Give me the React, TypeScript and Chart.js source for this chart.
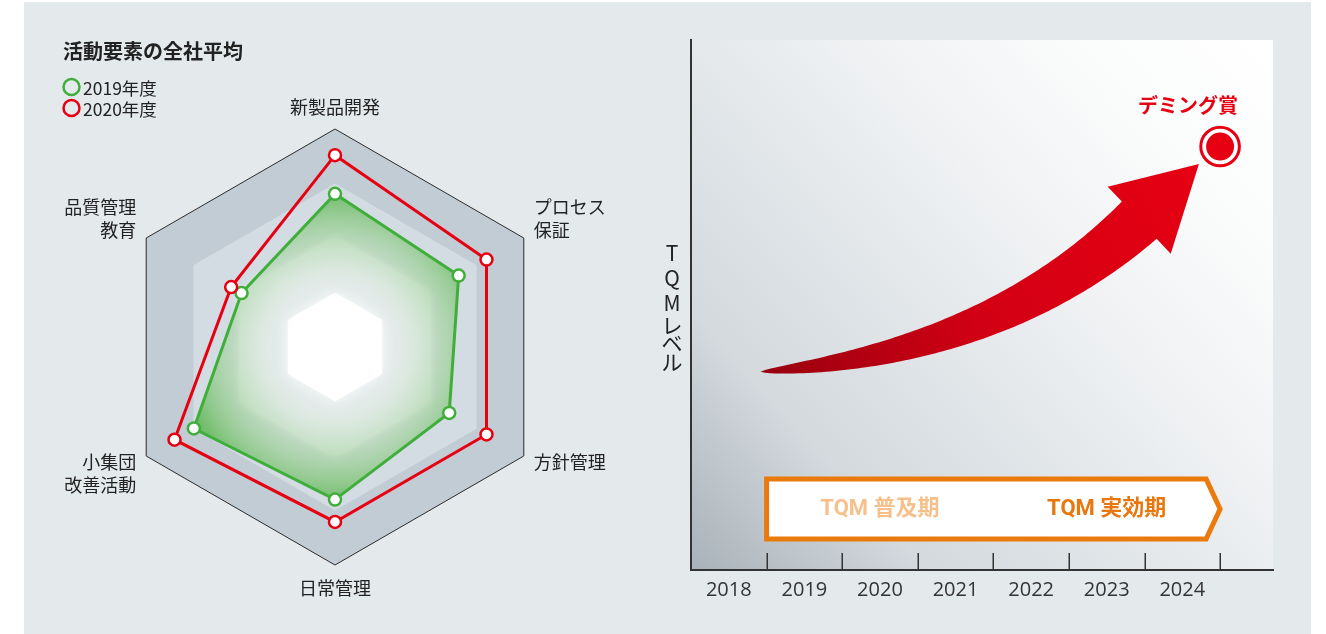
import React, { useEffect, useRef } from 'react';
import { Chart, registerables } from 'chart.js';

Chart.register(...registerables);

// ---------- Radar data ----------
const chartTitle = '活動要素の全社平均';
const radarLabels: (string | string[])[] = [
  '新製品開発',
  ['プロセス', '保証'],
  '方針管理',
  '日常管理',
  ['小集団', '改善活動'],
  ['品質管理', '教育'],
];
const seriesNames = ['2019年度', '2020年度'];
const series2019 = [2.81, 2.62, 2.42, 2.8, 2.99, 1.98];
const series2020 = [3.52, 3.21, 3.21, 3.21, 3.4, 2.2];
const radarTicks = [1, 2, 3, 4];

// ---------- TQM level data ----------
const yearLabels = [2018, 2019, 2020, 2021, 2022, 2023, 2024];
const yTitleChars = ['T', 'Q', 'M', 'レ', 'ベ', 'ル'];
// arrow spine: tail, bend, head base (year, level)
const arrowYears = [2018.42, 2021.54, 2023.43];
const arrowLevels = [37.4, 40.9, 66.0];
const arrowTipYear = [2024.22];
const arrowTipLevel = [76.6];
const awardYears = [2024.5];
const awardLevels = [79.9];
const awardLabel = 'デミング賞';
const phaseLabels = ['TQM 普及期', 'TQM 実効期'];
const phaseCenters = [2020, 2023];
const phaseSpan = [2018.5, 2024.5];
const phaseBand = [5.85, 17.17];

const FONT_JP = '"Noto Sans CJK JP", "Noto Sans", sans-serif';
const FONT_NUM = '"Open Sans", "Noto Sans CJK JP", sans-serif';
const RED = '#e60012';
const GREEN = '#3fae3a';

Chart.defaults.font.family = FONT_JP;

function RadarChart() {
  const ref = useRef<HTMLCanvasElement>(null);
  useEffect(() => {
    const canvas = ref.current!;
    const bandPlugin = {
      id: 'bands',
      beforeDraw(chart: any) {
        const s = chart.scales.r;
        const ctx = chart.ctx;
        const n = chart.data.labels.length;
        const fills = ['#c1ccd4', '#d3dce2', '#e4eaed', '#ffffff'];
        const vals = [...radarTicks].reverse();
        vals.forEach((v, k) => {
          ctx.save();
          ctx.beginPath();
          for (let i = 0; i < n; i++) {
            const p = s.getPointPositionForValue(i, v);
            if (i) ctx.lineTo(p.x, p.y);
            else ctx.moveTo(p.x, p.y);
          }
          ctx.closePath();
          if (k >= 2) {
            ctx.shadowColor = 'rgba(255,255,255,0.9)';
            ctx.shadowBlur = k === 3 ? 14 : 8;
          }
          ctx.fillStyle = fills[k];
          ctx.fill();
          ctx.restore();
        });
      },
    };
    const textPlugin = {
      id: 'texts',
      afterDraw(chart: any) {
        const ctx = chart.ctx;
        const s = chart.scales.r;
        ctx.save();
        // title
        ctx.fillStyle = '#222';
        ctx.textBaseline = 'middle';
        ctx.textAlign = 'left';
        ctx.font = `bold 20px ${FONT_JP}`;
        ctx.fillText(chartTitle, 63, 51);
        // legend
        const legendColors = [GREEN, RED];
        seriesNames.forEach((name, i) => {
          const cy = 87 + i * 21;
          ctx.beginPath();
          ctx.arc(71.5, cy, 8, 0, Math.PI * 2);
          ctx.lineWidth = 2.5;
          ctx.strokeStyle = legendColors[i];
          ctx.stroke();
          ctx.fillStyle = '#222';
          ctx.font = `17.5px ${FONT_JP}`;
          ctx.fillText(name, 83, cy + 1);
        });
        // point labels
        ctx.font = `18px ${FONT_JP}`;
        ctx.fillStyle = '#222';
        const lh = 23;
        radarLabels.forEach((lab, i) => {
          const lines = Array.isArray(lab) ? lab : [lab];
          const v = s.getPointPositionForValue(i, s.max);
          const deg = Math.round((s.getIndexAngle(i) * 180) / Math.PI) % 360;
          let x = v.x;
          let firstY = v.y;
          let align: CanvasTextAlign = 'center';
          if (deg === 0) {
            firstY = v.y - 22 - (lines.length - 1) * lh;
          } else if (deg === 180) {
            firstY = v.y + 23;
          } else if (deg < 90) {
            align = 'left'; x = v.x + 10; firstY = v.y - 8 - (lines.length - 1) * lh;
          } else if (deg < 180) {
            align = 'left'; x = v.x + 10; firstY = v.y + 6;
          } else if (deg < 270) {
            align = 'right'; x = v.x - 10; firstY = v.y + 6;
          } else {
            align = 'right'; x = v.x - 10; firstY = v.y - 8 - (lines.length - 1) * lh;
          }
          ctx.textAlign = align;
          lines.forEach((ln, k) => ctx.fillText(ln, x, firstY + k * lh));
        });
        ctx.restore();
      },
    };
    const greenFill = (c: any) => {
      const chart = c.chart;
      const s = chart.scales && chart.scales.r;
      if (!s || !chart.chartArea) return 'rgba(90,180,80,0.5)';
      const g = chart.ctx.createRadialGradient(s.xCenter, s.yCenter, 0, s.xCenter, s.yCenter, s.drawingArea * 0.76);
      g.addColorStop(0, 'rgba(255,255,255,0)');
      g.addColorStop(0.3, 'rgba(235,245,230,0.06)');
      g.addColorStop(0.55, 'rgba(175,218,165,0.4)');
      g.addColorStop(0.8, 'rgba(125,196,115,0.7)');
      g.addColorStop(1, 'rgba(80,175,70,0.92)');
      return g;
    };
    const chart = new Chart(canvas, {
      type: 'radar',
      data: {
        labels: radarLabels as any,
        datasets: [
          {
            label: seriesNames[1],
            data: series2020,
            borderColor: RED,
            borderWidth: 3,
            backgroundColor: 'transparent',
            fill: false,
            pointBackgroundColor: '#ffffff',
            pointBorderColor: RED,
            pointBorderWidth: 2.5,
            pointRadius: 6,
          },
          {
            label: seriesNames[0],
            data: series2019,
            borderColor: GREEN,
            borderWidth: 3,
            backgroundColor: greenFill,
            fill: 'origin',
            pointBackgroundColor: '#ffffff',
            pointBorderColor: GREEN,
            pointBorderWidth: 2.5,
            pointRadius: 6,
          },
        ],
      },
      options: {
        responsive: false,
        animation: false,
        layout: { padding: { left: 117, top: 129, right: 87, bottom: 69 } },
        plugins: { legend: { display: false }, tooltip: { enabled: false }, title: { display: false } },
        elements: { line: { tension: 0 } },
        scales: {
          r: {
            min: 0,
            max: 4,
            ticks: { display: false, stepSize: 1 },
            angleLines: { display: false },
            pointLabels: { display: false },
            grid: {
              circular: false,
              lineWidth: 1,
              color: (c: any) => (c.tick && c.tick.value === 4 ? '#2a2a2a' : 'rgba(0,0,0,0)'),
            },
          },
        },
      } as any,
      plugins: [bandPlugin, textPlugin],
    });
    return () => chart.destroy();
  }, []);
  return <canvas ref={ref} width={640} height={634} style={{ display: 'block' }} />;
}

function LevelChart() {
  const ref = useRef<HTMLCanvasElement>(null);
  useEffect(() => {
    const canvas = ref.current!;
    const plugin = {
      id: 'tqm',
      beforeDraw(chart: any) {
        const { ctx, chartArea: a } = chart;
        const g = ctx.createLinearGradient(a.left, a.bottom, a.right, a.top);
        g.addColorStop(0, '#a9b2b9');
        g.addColorStop(0.22, '#d3d9dd');
        g.addColorStop(0.45, '#e4e8eb');
        g.addColorStop(0.6, '#eff1f3');
        g.addColorStop(0.8, '#fafbfb');
        g.addColorStop(1, '#ffffff');
        ctx.save();
        ctx.fillStyle = g;
        ctx.fillRect(a.left, a.top, a.right - a.left, a.bottom - a.top);
        ctx.restore();
      },
      beforeDatasetsDraw(chart: any) {
        const ctx = chart.ctx;
        const xs = chart.scales.x;
        const ys = chart.scales.y;
        // ---- arrow ----
        const P = arrowYears.map((yr, i) => ({ x: xs.getPixelForValue(yr), y: ys.getPixelForValue(arrowLevels[i]) }));
        const tip = { x: xs.getPixelForValue(arrowTipYear[0]), y: ys.getPixelForValue(arrowTipLevel[0]) };
        const N = 100;
        const sideA: number[][] = [];
        const sideB: number[][] = [];
        const halfBody = 25.5;
        for (let k = 0; k <= N; k++) {
          const t = k / N;
          const mt = 1 - t;
          const bx = mt * mt * P[0].x + 2 * mt * t * P[1].x + t * t * P[2].x;
          const by = mt * mt * P[0].y + 2 * mt * t * P[1].y + t * t * P[2].y;
          const dx = 2 * mt * (P[1].x - P[0].x) + 2 * t * (P[2].x - P[1].x);
          const dy = 2 * mt * (P[1].y - P[0].y) + 2 * t * (P[2].y - P[1].y);
          const len = Math.hypot(dx, dy) || 1;
          const nx = -dy / len;
          const ny = dx / len;
          const w = halfBody * Math.pow(t, 0.62);
          sideA.push([bx + nx * w, by + ny * w]);
          sideB.push([bx - nx * w, by - ny * w]);
        }
        const ddx = tip.x - P[2].x;
        const ddy = tip.y - P[2].y;
        const dl = Math.hypot(ddx, ddy);
        const hx = -ddy / dl;
        const hy = ddx / dl;
        const halfHead = 46;
        ctx.save();
        const grad = ctx.createLinearGradient(P[0].x, P[0].y, tip.x, tip.y);
        grad.addColorStop(0, '#98000f');
        grad.addColorStop(0.45, '#d20014');
        grad.addColorStop(1, RED);
        ctx.fillStyle = grad;
        ctx.beginPath();
        ctx.moveTo(sideA[0][0], sideA[0][1]);
        sideA.forEach((p) => ctx.lineTo(p[0], p[1]));
        ctx.lineTo(P[2].x + hx * halfHead, P[2].y + hy * halfHead);
        ctx.lineTo(tip.x, tip.y);
        ctx.lineTo(P[2].x - hx * halfHead, P[2].y - hy * halfHead);
        for (let k = sideB.length - 1; k >= 0; k--) ctx.lineTo(sideB[k][0], sideB[k][1]);
        ctx.closePath();
        ctx.fill();
        ctx.restore();

        // ---- phase box ----
        const x0 = xs.getPixelForValue(phaseSpan[0]);
        const x1 = xs.getPixelForValue(phaseSpan[1]);
        const yT = ys.getPixelForValue(phaseBand[1]);
        const yB = ys.getPixelForValue(phaseBand[0]);
        const yM = (yT + yB) / 2;
        ctx.save();
        ctx.beginPath();
        ctx.moveTo(x0, yT);
        ctx.lineTo(x1 - 14, yT);
        ctx.lineTo(x1, yM);
        ctx.lineTo(x1 - 14, yB);
        ctx.lineTo(x0, yB);
        ctx.closePath();
        ctx.fillStyle = '#ffffff';
        ctx.fill();
        ctx.lineWidth = 5;
        ctx.lineJoin = 'miter';
        ctx.strokeStyle = '#eb7a0c';
        ctx.stroke();
        const phaseColors = ['#f7c08b', '#e8770d'];
        ctx.font = `bold 22px Roboto, ${FONT_JP}`;
        ctx.textAlign = 'center';
        ctx.textBaseline = 'middle';
        phaseLabels.forEach((lab, i) => {
          ctx.fillStyle = phaseColors[i];
          ctx.fillText(lab, xs.getPixelForValue(phaseCenters[i]), yM + 1);
        });
        ctx.restore();
      },
      afterDraw(chart: any) {
        const ctx = chart.ctx;
        const xs = chart.scales.x;
        const ys = chart.scales.y;
        const a = chart.chartArea;
        ctx.save();
        // tick marks at year boundaries
        ctx.strokeStyle = '#333';
        ctx.lineWidth = 1.5;
        yearLabels.forEach((yr) => {
          const x = Math.round(xs.getPixelForValue(yr + 0.5)) + 0.25;
          ctx.beginPath();
          ctx.moveTo(x, a.bottom);
          ctx.lineTo(x, a.bottom - 17);
          ctx.stroke();
        });
        // y title (vertical, upright)
        ctx.fillStyle = '#222';
        ctx.font = `21px ${FONT_JP}`;
        ctx.textAlign = 'center';
        ctx.textBaseline = 'middle';
        const pitches = yTitleChars.map((c) => (/[A-Za-z]/.test(c) ? 25 : 18.5));
        const total = pitches.reduce((s, p) => s + p, 0);
        let y = (a.top + a.bottom) / 2 - total / 2 + 1;
        yTitleChars.forEach((c, i) => {
          ctx.fillText(c, a.left - 19, y + pitches[i] / 2);
          y += pitches[i];
        });
        // award label
        const ax = xs.getPixelForValue(awardYears[0]);
        const ay = ys.getPixelForValue(awardLevels[0]);
        ctx.fillStyle = RED;
        ctx.font = `bold 20px ${FONT_JP}`;
        ctx.fillText(awardLabel, ax - 32, ay - 41);
        ctx.restore();
      },
    };
    const awardPts = awardYears.map((x, i) => ({ x, y: awardLevels[i] }));
    const chart = new Chart(canvas, {
      type: 'scatter',
      data: {
        datasets: [
          { data: awardPts, pointRadius: 14, backgroundColor: RED, borderWidth: 0, pointBorderWidth: 0 },
          { data: awardPts, pointRadius: 19.3, backgroundColor: '#ffffff', borderColor: RED, pointBorderWidth: 3 },
        ],
      },
      options: {
        responsive: false,
        animation: false,
        layout: { padding: { left: 51, top: 40, right: 53, bottom: 0 } },
        plugins: { legend: { display: false }, tooltip: { enabled: false }, title: { display: false } },
        scales: {
          x: {
            type: 'linear',
            min: 2017.5,
            max: 2025.2,
            grid: { display: false, drawTicks: false },
            border: { display: true, color: '#333', width: 2 },
            ticks: {
              padding: 8,
              color: '#333',
              font: { family: FONT_NUM, size: 20 },
              callback: (v: any) => String(v),
            },
            afterBuildTicks: (s: any) => {
              s.ticks = yearLabels.map((v) => ({ value: v }));
            },
            afterFit: (s: any) => {
              s.height = 64;
            },
          },
          y: {
            min: 0,
            max: 100,
            grid: { display: false, drawTicks: false },
            border: { display: true, color: '#333', width: 2 },
            ticks: { display: false },
            afterFit: (s: any) => {
              s.width = 0;
            },
          },
        },
      } as any,
      plugins: [plugin],
    });
    return () => chart.destroy();
  }, []);
  return <canvas ref={ref} width={686} height={634} style={{ display: 'block' }} />;
}

export default function App() {
  return (
    <div style={{ position: 'absolute', left: 0, top: 0, width: 1326, height: 634, background: '#ffffff', overflow: 'hidden' }}>
      <div style={{ position: 'absolute', left: 24, top: 2, width: 1287, height: 640, background: '#e4e9ec' }} />
      <div style={{ position: 'absolute', left: 0, top: 0, width: 640, height: 634 }}>
        <RadarChart />
      </div>
      <div style={{ position: 'absolute', left: 640, top: 0, width: 686, height: 634 }}>
        <LevelChart />
      </div>
    </div>
  );
}
